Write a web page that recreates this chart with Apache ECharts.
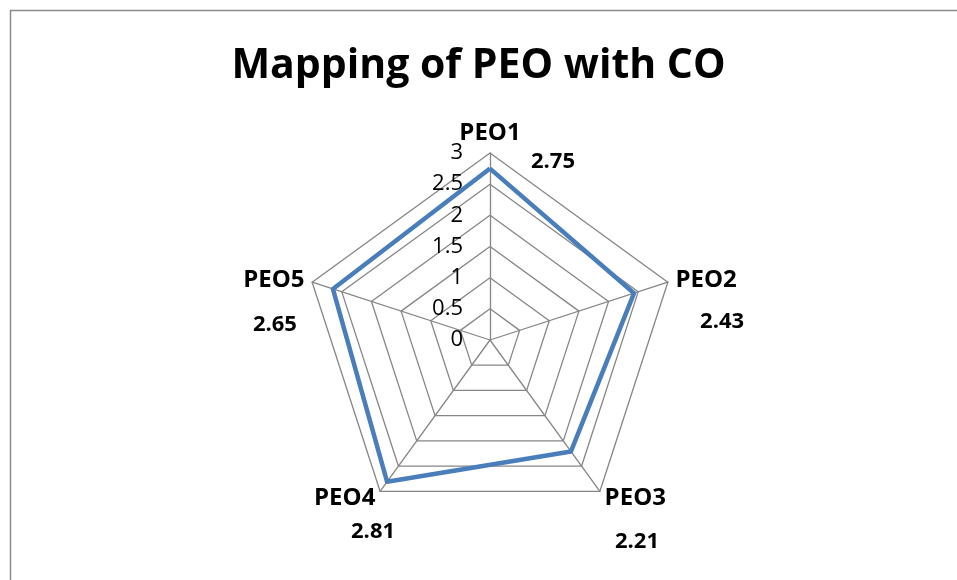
<!DOCTYPE html>
<html>
<head>
<meta charset="utf-8">
<script src="https://cdn.jsdelivr.net/npm/echarts@6/dist/echarts.min.js"></script>
<style>
  html, body { margin: 0; padding: 0; background: #fff; }
  #chart { width: 957px; height: 580px; }
</style>
</head>
<body>
<div id="chart"></div>
<script>
const titleText = 'Mapping of PEO with CO';
const indicators = ['PEO1', 'PEO2', 'PEO3', 'PEO4', 'PEO5'];
const values = [2.75, 2.43, 2.21, 2.81, 2.65];
const axisMin = 0;
const axisMax = 3;
const tickStep = 0.5;

// presentation (label offsets in px relative to each point)
const labelOffsets = [[63, -7], [88, 29], [66, 90], [-14, 50], [-58, 36]];

const chart = echarts.init(document.getElementById('chart'));
const center = [490, 340];
const R = 187;
// ECharts radar lays indicators counterclockwise; reorder so they run clockwise
const order = [0, 4, 3, 2, 1];

const option = {
  backgroundColor: '#fff',
  animation: false,
  graphic: [{
    type: 'rect',
    shape: { x: 10.5, y: 10.5, width: 2000, height: 2000 },
    style: { fill: 'none', stroke: '#8a8a8a', lineWidth: 1.5 },
    silent: true
  }],
  title: {
    text: titleText,
    left: 'center',
    top: 41,
    textStyle: { fontFamily: 'Open Sans', fontWeight: 'bold', fontSize: 41, color: '#000' }
  },
  radar: {
    center: center,
    radius: R,
    startAngle: 90,
    splitNumber: 6,
    shape: 'polygon',
    nameGap: 8,
    indicator: order.map(i => ({ name: indicators[i], min: axisMin, max: axisMax })),
    axisName: { color: '#000', fontFamily: 'Open Sans', fontWeight: 'bold', fontSize: 24 },
    splitLine: { lineStyle: { color: '#868686', width: 1.3 } },
    splitArea: { show: false },
    axisLine: { lineStyle: { color: '#868686', width: 1.3 } },
    axisTick: { show: false },
    axisLabel: { show: false }
  },
  polar: { center: center, radius: [0, R] },
  angleAxis: { type: 'value', min: 0, max: indicators.length, startAngle: 90, clockwise: true, show: false },
  radiusAxis: {
    type: 'value', min: axisMin, max: axisMax, interval: tickStep,
    axisLine: { show: false }, axisTick: { show: false }, splitLine: { show: false },
    axisLabel: { show: true, color: '#000', fontFamily: 'Open Sans', fontSize: 22, margin: 27 }
  },
  series: [
    {
      type: 'radar',
      symbol: 'none',
      lineStyle: { color: '#4a7ebb', width: 4.5 },
      data: [{ value: order.map(i => values[i]) }]
    },
    {
      type: 'scatter',
      coordinateSystem: 'polar',
      symbol: 'circle',
      symbolSize: 1,
      silent: true,
      itemStyle: { color: 'rgba(255,255,255,0)' },
      label: {
        show: true, position: 'inside', color: '#000', opacity: 1,
        textBorderWidth: 0,
        fontFamily: 'Open Sans', fontWeight: 'bold', fontSize: 22,
        formatter: p => String(p.value[0])
      },
      data: values.map((v, i) => ({ value: [v, i], label: { offset: labelOffsets[i] } }))
    }
  ]
};
chart.setOption(option);
</script>
</body>
</html>
